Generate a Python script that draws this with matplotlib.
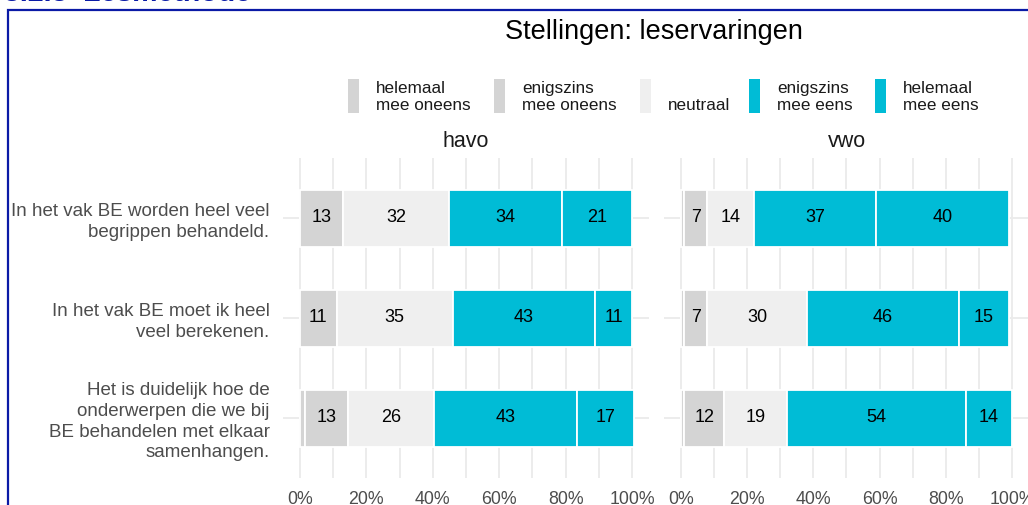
import numpy as np
import matplotlib
matplotlib.use('Agg')
import matplotlib.pyplot as plt
from matplotlib.patches import Rectangle

plt.rcParams['font.family'] = ['Liberation Sans', 'DejaVu Sans']

# data (percentages)
stellingen = ['In het vak BE worden heel veel\nbegrippen behandeld.',
              'In het vak BE moet ik heel\nveel berekenen.',
              'Het is duidelijk hoe de\nonderwerpen die we bij\nBE behandelen met elkaar\nsamenhangen.']
categorieen = ['helemaal\nmee oneens', 'enigszins\nmee oneens', '\nneutraal',
               'enigszins\nmee eens', 'helemaal\nmee eens']
kleuren = ['#D4D4D4', '#D4D4D4', '#EFEFEF', '#00BCD6', '#00BCD6']

havo = {'helemaal_oneens': [0, 0, 1.5],
        'enigszins_oneens': [13, 11, 13],
        'neutraal': [32, 35, 26],
        'enigszins_eens': [34, 43, 43],
        'helemaal_eens': [21, 11, 17]}
vwo = {'helemaal_oneens': [1, 1, 1],
       'enigszins_oneens': [7, 7, 12],
       'neutraal': [14, 30, 19],
       'enigszins_eens': [37, 46, 54],
       'helemaal_eens': [40, 15, 14]}

W, H = 1028, 505
fig = plt.figure(figsize=(W / 100, H / 100), dpi=100)


def fx(x):
    return x / W


def fy(y):
    return 1 - y / H


def paneel(rect, data, naam, labels):
    ax = fig.add_axes(rect)
    y = np.arange(len(stellingen))
    links = np.zeros(len(stellingen))
    for i, (key, vals) in enumerate(data.items()):
        vals = np.array(vals, dtype=float)
        ax.barh(y, vals, left=links, height=0.57, color=kleuren[i],
                edgecolor='white', linewidth=1.3, zorder=3)
        for yy, l, v in zip(y, links, vals):
            if v >= 5:
                ax.text(l + v / 2, yy, f'{v:.0f}', ha='center', va='center',
                        fontsize=13, color='black', zorder=4)
        links += vals
    ax.set_xlim(-5, 105)
    ax.set_ylim(len(stellingen) - 0.4, -0.6)
    ax.set_xticks(np.arange(0, 101, 20))
    ax.set_xticks(np.arange(10, 100, 20), minor=True)
    ax.set_xticklabels([f'{t}%' for t in range(0, 101, 20)])
    ax.set_yticks(y)
    if labels:
        ax.set_yticklabels(stellingen, linespacing=1.28)
    else:
        ax.set_yticklabels([])
    ax.grid(True, which='both', axis='x', color='#EBEBEB', linewidth=1.3, zorder=0)
    ax.grid(True, which='major', axis='y', color='#EBEBEB', linewidth=1.3, zorder=0)
    ax.tick_params(axis='both', which='both', length=0, labelcolor='#4D4D4D')
    ax.tick_params(axis='x', pad=9, labelsize=12.8)
    ax.tick_params(axis='y', pad=10, labelsize=13.5)
    for s in ax.spines.values():
        s.set_visible(False)
    ax.set_title(naam, fontsize=15.5, pad=8, color='#1A1A1A')
    return ax


bottom = fy(478)
height = fy(158) - fy(478)
paneel([fx(283.4), bottom, fx(648.6) - fx(283.4), height], havo, 'havo', True)
paneel([fx(664.4), bottom, fx(1028.6) - fx(664.4), height], vwo, 'vwo', False)

# title
fig.text(fx(654), fy(39), 'Stellingen: leservaringen', ha='center', va='baseline',
         fontsize=19.5, color='black')

# legend
key_x = [348, 494, 640, 749, 875]
for kx, lab, kl in zip(key_x, categorieen, kleuren):
    fig.add_artist(Rectangle((fx(kx), fy(113)), fx(11), fy(79) - fy(113),
                             transform=fig.transFigure, color=kl, lw=0))
    fig.text(fx(kx + 28), fy(97), lab, ha='left', va='center', fontsize=12.3,
             color='#1A1A1A', linespacing=1.22)

# blue frame and cut-off heading
fig.add_artist(Rectangle((fx(8), fy(520)), fx(1040), fy(10) - fy(520),
                         transform=fig.transFigure, fill=False,
                         edgecolor='#0A1AA6', linewidth=1.6))
fig.text(fx(4), fy(1.0), '3.2.3  Lesmethode', ha='left', va='baseline',
         fontsize=20.5, fontweight='bold', color='#0A1AA6')

fig.savefig('out.png', dpi=100)
